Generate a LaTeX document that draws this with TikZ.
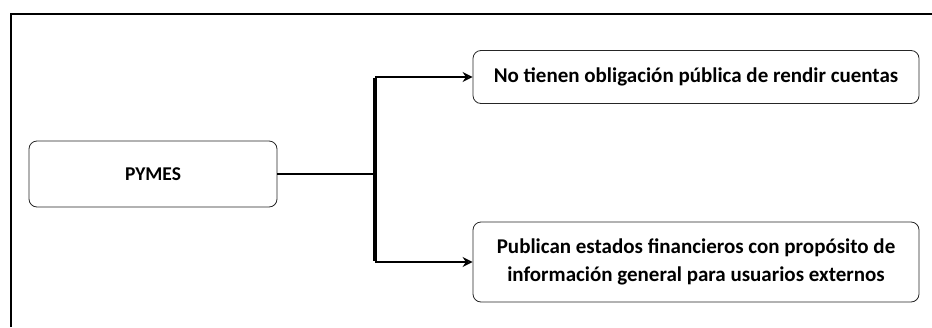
\documentclass[tikz,border=0pt]{standalone}
\usepackage{fontspec}
\setmainfont{Carlito}
\usetikzlibrary{arrows.meta}
\begin{document}
\begin{tikzpicture}[x=1pt,y=-1pt,
  box/.style={draw=black!85,line width=0.8pt,rounded corners=8pt,inner sep=0pt,align=center,font=\fontsize{21}{28}\selectfont\bfseries},
  conn/.style={line width=2.4pt,black},
  arr/.style={conn,-{Stealth[length=10pt,width=10pt,open,line width=1.8pt]}},
  frame/.style={line width=2.6pt,black}]
\useasboundingbox (0,0) rectangle (932,327);
\coordinate (fa) at (11,327);
\coordinate (fb) at (11,14);
\coordinate (fc) at (932,14);
\draw[frame] (fa) -- (fb) -- (fc);
\node[box,minimum width=248pt,minimum height=66pt,font=\fontsize{19.5}{24}\selectfont\bfseries] (p) at (153,174) {PYMES};
\node[box,minimum width=446pt,minimum height=53pt] (a) at (696,77) {No tienen obligación pública de rendir cuentas};
\node[box,minimum width=446pt,minimum height=80pt] (b) at (696,262) {Publican estados financieros con propósito de\\información general para usuarios externos};
\coordinate (j) at (375,174);
\coordinate (jt) at (375,77);
\coordinate (jb) at (375,262);
\draw[conn] (p.east) -- (j);
\draw[line width=3.2pt] ([yshift=-1.2pt]jt) -- ([yshift=1.2pt]jb);
\draw[arr] (jt) -- (a.west);
\draw[arr] (jb) -- (b.west);
\end{tikzpicture}
\end{document}
